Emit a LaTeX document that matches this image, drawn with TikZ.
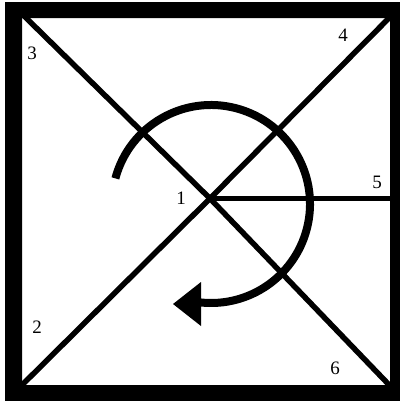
\documentclass[tikz,border=0pt]{standalone}
\usepackage{fontspec}
\setmainfont{Liberation Serif}
\begin{document}
\begin{tikzpicture}[x=0.25mm,y=-0.25mm,
  lbl/.style={font=\fontsize{13.5}{15}\selectfont,inner sep=0pt},
  diag/.style={line width=5.5*0.25mm},
  spoke/.style={line width=4.5*0.25mm},
  turn/.style={line width=8*0.25mm}]
\useasboundingbox (0,0) rectangle (400,401);
\fill[white] (0,0) rectangle (400,401);
% centre and end points
\coordinate (c) at (210,198.5);
\coordinate (tl) at (16,8);
\coordinate (br) at (395,391);
\coordinate (bl) at (16,391);
\coordinate (tr) at (395,12);
\coordinate (e) at (395,198.5);
\draw[diag] (tl) -- (c) -- (br);
\draw[diag] (bl) -- (c) -- (tr);
\draw[spoke] (c) -- (e);
% turning arrow
\draw[turn] (211,204) ++(-165:99) arc[start angle=-165,end angle=96,radius=99] coordinate (ae);
\coordinate (tip) at (173,304);
\fill (tip) -- (201,282) -- (201,326) -- cycle;
% frame
\fill[black,even odd rule] (5,2) rectangle (400,401) (22,18) rectangle (390,385);
% labels
\node[lbl] (n1) at (181,198) {1};
\node[lbl] (n2) at (37,327) {2};
\node[lbl] (n3) at (32,53) {3};
\node[lbl] (n4) at (343,35) {4};
\node[lbl] (n5) at (377,182) {5};
\node[lbl] (n6) at (335,368) {6};
\end{tikzpicture}
\end{document}
